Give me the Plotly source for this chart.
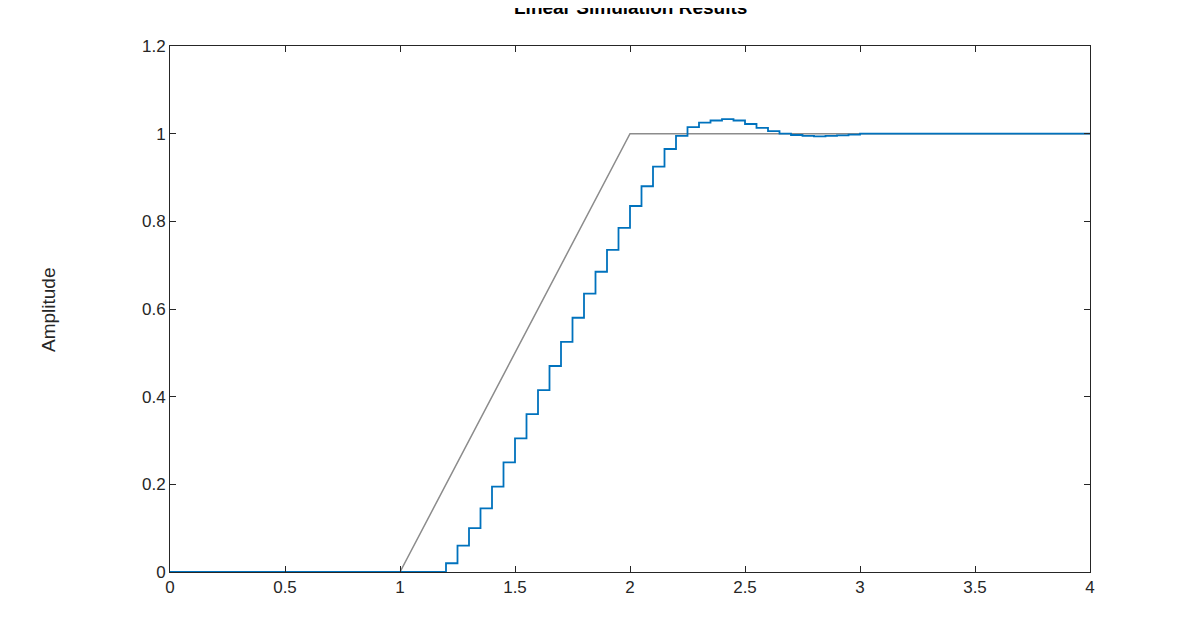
import plotly.graph_objects as go

ramp_t = [0, 1, 2, 4]
ramp_u = [0, 0, 1, 1]

step_t = [0, 1.15, 1.20, 1.25, 1.30, 1.35, 1.40, 1.45, 1.50, 1.55, 1.60, 1.65, 1.70, 1.75, 1.80,
          1.85, 1.90, 1.95, 2.00, 2.05, 2.10, 2.15, 2.20, 2.25, 2.30, 2.35, 2.40, 2.45, 2.50,
          2.55, 2.60, 2.65, 2.70, 2.75, 2.80, 2.85, 2.90, 2.95, 3.00, 4.00]
step_y = [0, 0.0, 0.02, 0.06, 0.10, 0.145, 0.195, 0.25, 0.305, 0.36, 0.415, 0.47, 0.525, 0.58, 0.635,
          0.685, 0.735, 0.785, 0.835, 0.88, 0.925, 0.965, 0.995, 1.015, 1.025, 1.03, 1.033, 1.03, 1.022,
          1.013, 1.006, 1.0, 0.997, 0.995, 0.994, 0.995, 0.996, 0.998, 1.0, 1.0]

fig = go.Figure()
fig.add_trace(go.Scatter(x=ramp_t, y=ramp_u, mode="lines", line=dict(color="#8c8c8c", width=1.5)))
fig.add_trace(go.Scatter(x=step_t, y=step_y, mode="lines", line=dict(color="#0072bd", width=1.8, shape="hv")))

tc = "#262626"
ax = dict(showgrid=False, zeroline=False, showline=True, linecolor="#262626", linewidth=1, mirror="ticks",
          ticks="inside", ticklen=6, tickcolor="#262626", tickfont=dict(size=17, color=tc))
fig.update_layout(
    width=1196, height=628, plot_bgcolor="white", paper_bgcolor="white", showlegend=False,
    margin=dict(l=162, r=114, t=38, b=64),
    font=dict(family="Liberation Sans, Arial", color=tc),
    xaxis=dict(range=[0, 4], tickvals=[0, 0.5, 1, 1.5, 2, 2.5, 3, 3.5, 4],
               ticktext=["0", "0.5", "1", "1.5", "2", "2.5", "3", "3.5", "4"], **ax),
    yaxis=dict(range=[0, 1.2], tickvals=[0, 0.2, 0.4, 0.6, 0.8, 1, 1.2],
               ticktext=["0", "0.2", "0.4", "0.6", "0.8", "1", "1.2"], **ax),
    annotations=[
        dict(text="<b>Linear Simulation Results</b>", x=0.5, y=1 + 38/526, xref="paper", yref="paper",
             yanchor="middle", showarrow=False, font=dict(size=19, color="#000")),
        dict(text="Time (seconds)", x=0.5, y=-66/526, xref="paper", yref="paper",
             yanchor="middle", showarrow=False, font=dict(size=19, color=tc)),
        dict(text="Amplitude", x=-122/920, y=0.5, xref="paper", yref="paper", textangle=-90,
             xanchor="center", showarrow=False, font=dict(size=19, color=tc)),
    ],
)
fig.write_html("out.html")
